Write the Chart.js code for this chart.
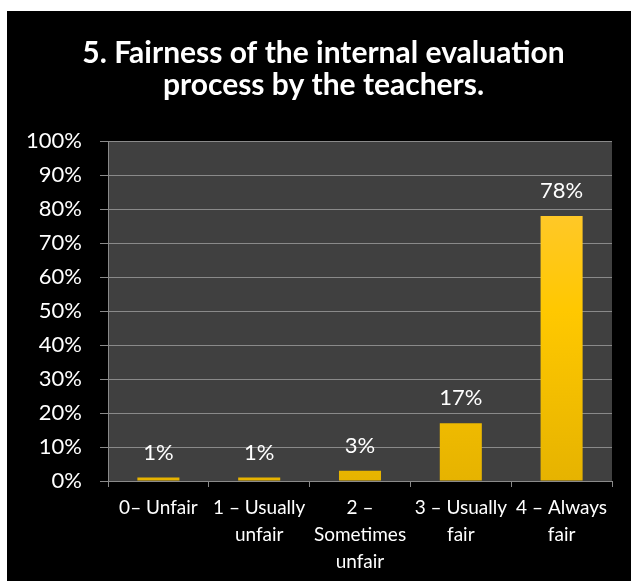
<!DOCTYPE html>
<html>
<head>
<meta charset="utf-8">
<script src="https://cdn.jsdelivr.net/npm/chart.js@4/dist/chart.umd.min.js"></script>
<style>
  html, body { margin: 0; padding: 0; background: #fff; }
  .frame { position: absolute; left: 7px; top: 11px; width: 624px; height: 570px; background: #000; }
</style>
</head>
<body>
<div class="frame">
  <canvas id="myChart" width="624" height="570"></canvas>
</div>
<script>
const categories = [
  ["0\u2013 Unfair"],
  ["1 \u2013 Usually", "unfair"],
  ["2 \u2013", "Sometimes", "unfair"],
  ["3 \u2013 Usually", "fair"],
  ["4 \u2013 Always", "fair"]
];
const values = [1, 1, 3, 17, 78];
const titleLines = ["5. Fairness of the internal evaluation", "process by the teachers."];

// grey plot background
const plotBg = {
  id: 'plotBg',
  beforeDraw(chart) {
    const { ctx, chartArea: a } = chart;
    ctx.save();
    ctx.fillStyle = '#404040';
    ctx.fillRect(a.left, a.top, a.right - a.left, a.bottom - a.top);
    ctx.restore();
  }
};

// nudge title a bit right, like the original
const titleShift = {
  id: 'titleShift',
  afterLayout(chart) {
    if (chart.titleBlock) {
      chart.titleBlock.left += 9;
      chart.titleBlock.right += 9;
    }
  }
};

// value labels above bars
const valueLabels = {
  id: 'valueLabels',
  afterDatasetsDraw(chart) {
    const ctx = chart.ctx;
    const meta = chart.getDatasetMeta(0);
    ctx.save();
    ctx.fillStyle = '#ffffff';
    ctx.font = '22px Lato';
    ctx.textAlign = 'center';
    ctx.textBaseline = 'alphabetic';
    meta.data.forEach((bar, i) => {
      ctx.fillText(values[i] + '%', bar.x, bar.y - 18);
    });
    ctx.restore();
  }
};

function barFill(context) {
  const chart = context.chart;
  const a = chart.chartArea;
  if (!a) return '#FFC800';
  const el = context.element;
  const top = el && el.y != null ? el.y : a.top;
  const g = chart.ctx.createLinearGradient(0, top, 0, a.bottom);
  g.addColorStop(0, '#FFC846');
  g.addColorStop(0.5, '#FFC800');
  g.addColorStop(1, '#E6B300');
  return g;
}

new Chart(document.getElementById('myChart'), {
  type: 'bar',
  data: {
    labels: categories,
    datasets: [{
      data: values,
      backgroundColor: barFill,
      categoryPercentage: 1,
      barPercentage: 0.417
    }]
  },
  options: {
    responsive: false,
    animation: false,
    layout: { padding: { left: 10, right: 19, top: 0, bottom: 0 } },
    plugins: {
      legend: { display: false },
      tooltip: { enabled: false },
      title: {
        display: true,
        text: titleLines,
        color: '#ffffff',
        font: { family: 'Lato', size: 30, weight: 'bold', lineHeight: 1.07 },
        padding: { top: 26, bottom: 40 }
      }
    },
    scales: {
      y: {
        min: 0,
        max: 100,
        ticks: {
          stepSize: 10,
          color: '#ffffff',
          font: { family: 'Lato', size: 22 },
          padding: 18,
          callback: v => v + '%'
        },
        grid: { color: '#8a8a8a', lineWidth: 1, tickLength: 8 },
        border: { color: '#8a8a8a' },
        afterFit(scale) { scale.width = 91; }
      },
      x: {
        offset: true,
        ticks: {
          color: '#ffffff',
          font: { family: 'Lato', size: 19, lineHeight: 1.4 },
          autoSkip: false,
          maxRotation: 0,
          padding: 8
        },
        grid: { drawOnChartArea: false, color: '#8a8a8a', tickLength: 6, offset: true },
        border: { color: '#8a8a8a' },
        afterFit(scale) { scale.height = 100; }
      }
    }
  },
  plugins: [plotBg, titleShift, valueLabels]
});
</script>
</body>
</html>
